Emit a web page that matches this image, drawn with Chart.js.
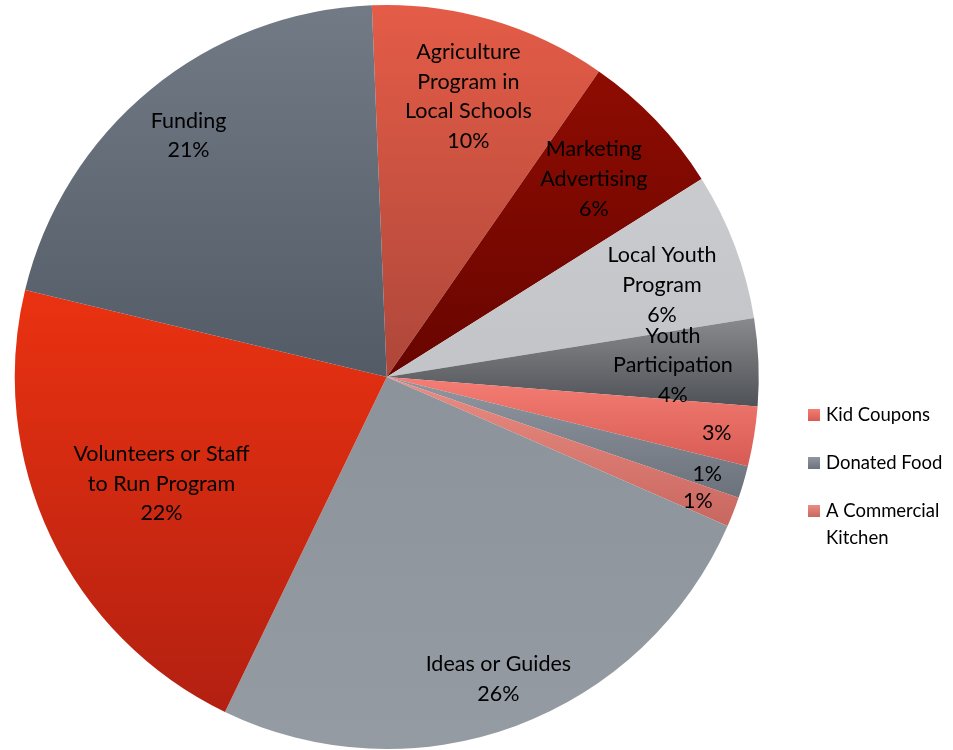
<!DOCTYPE html>
<html>
<head>
<meta charset="utf-8">
<script src="https://cdn.jsdelivr.net/npm/chart.js@4/dist/chart.umd.min.js"></script>
<style>
  html, body { margin: 0; padding: 0; background: #ffffff; }
  #wrap { width: 953px; height: 750px; }
</style>
</head>
<body>
<div id="wrap"><canvas id="pie" width="953" height="750"></canvas></div>
<script>
// Survey answers: what is needed to run the program (share of responses, %)
const categories = [
  'Agriculture Program in Local Schools',
  'Marketing Advertising',
  'Local Youth Program',
  'Youth Participation',
  'Kid Coupons',
  'Donated Food',
  'A Commercial Kitchen',
  'Ideas or Guides',
  'Volunteers or Staff to Run Program',
  'Funding'
];
const shares = [10.3, 6.4, 6.4, 3.8, 2.6, 1.4, 1.3, 25.6, 21.6, 20.6];

// How each in-slice label is broken into lines (empty = percentage only, name goes to the legend)
const labelLines = [
  ['Agriculture', 'Program in', 'Local Schools'],
  ['Marketing', 'Advertising'],
  ['Local Youth', 'Program'],
  ['Youth', 'Participation'],
  [],
  [],
  [],
  ['Ideas or Guides'],
  ['Volunteers or Staff', 'to Run Program'],
  ['Funding']
];

// Slice fills: vertical gradient from top colour to bottom colour
const topColors    = ['#E45C47', '#8E0C02', '#C9CBCF', '#898A8D', '#F57D73', '#9097A0', '#EB8D84', '#8C939B', '#EA3211', '#717A85'];
const bottomColors = ['#AE473A', '#680500', '#C2C4C8', '#4F5257', '#D65B54', '#6B727B', '#C8675F', '#949BA3', '#B32011', '#535B66'];

// Label placement: distance from the centre (fraction of radius) and a small angular nudge (degrees)
const labelRadius = [0.785, 0.77, 0.78, 0.77, 0.9, 0.9, 0.9, 0.865, 0.67, 0.84];
const labelAngleShift = [0, 0, 2.2, 0, 0.5, 0.4, 0.4, 0, 0, 0];

const ROTATION = -2.3;
const FONT = 'Lato, "Open Sans", "Liberation Sans", sans-serif';

function sliceGradient(context) {
  const chart = context.chart;
  const i = context.dataIndex;
  const area = chart.chartArea;
  if (!area) return topColors[i];
  const cx = (area.left + area.right) / 2;
  const cy = (area.top + area.bottom) / 2;
  const r = Math.min(area.right - area.left, area.bottom - area.top) / 2;
  const total = shares.reduce((a, b) => a + b, 0);
  let before = 0;
  for (let k = 0; k < i; k++) before += shares[k];
  const a0 = (ROTATION / 180) * Math.PI - Math.PI / 2 + (before / total) * 2 * Math.PI;
  const a1 = a0 + (shares[i] / total) * 2 * Math.PI;
  const ys = [cy, cy + Math.sin(a0) * r, cy + Math.sin(a1) * r];
  // include the top / bottom extremes when the arc passes over them
  for (const ext of [-Math.PI / 2, Math.PI / 2, 1.5 * Math.PI, 2.5 * Math.PI]) {
    if (ext > a0 && ext < a1) ys.push(cy + Math.sin(ext) * r);
  }
  const y0 = Math.min(...ys), y1 = Math.max(...ys);
  const g = chart.ctx.createLinearGradient(0, y0, 0, y1);
  g.addColorStop(0, topColors[i]);
  g.addColorStop(1, bottomColors[i]);
  return g;
}

const sliceLabels = {
  id: 'sliceLabels',
  afterDatasetsDraw(chart) {
    const ctx = chart.ctx;
    const meta = chart.getDatasetMeta(0);
    const total = shares.reduce((a, b) => a + b, 0);
    const lineH = 29.8;
    ctx.save();
    ctx.fillStyle = '#000000';
    ctx.font = '21.5px ' + FONT;
    ctx.textAlign = 'center';
    ctx.textBaseline = 'middle';
    meta.data.forEach((arc, i) => {
      const p = arc.getProps(['x', 'y', 'startAngle', 'endAngle', 'outerRadius'], true);
      const mid = (p.startAngle + p.endAngle) / 2 + labelAngleShift[i] * Math.PI / 180;
      const rr = p.outerRadius * labelRadius[i];
      const x = p.x + Math.cos(mid) * rr;
      const y = p.y + Math.sin(mid) * rr;
      const lines = labelLines[i].concat([Math.round(shares[i] / total * 100) + '%']);
      const startY = y - (lines.length - 1) * lineH / 2;
      lines.forEach((t, j) => ctx.fillText(t, x, startY + j * lineH));
    });
    ctx.restore();
  }
};

// Legend for the slices whose names do not fit inside them
const sideLegend = {
  id: 'sideLegend',
  afterDraw(chart) {
    const ctx = chart.ctx;
    const items = categories.map((c, i) => i).filter(i => labelLines[i].length === 0);
    const x = chart.chartArea.right + 49;
    const maxW = 125;
    let y = 415;
    ctx.save();
    ctx.font = '18.5px ' + FONT;
    ctx.textBaseline = 'middle';
    ctx.textAlign = 'left';
    items.forEach(i => {
      const g = ctx.createLinearGradient(0, y - 6, 0, y + 6);
      g.addColorStop(0, topColors[i]);
      g.addColorStop(1, bottomColors[i]);
      ctx.fillStyle = g;
      ctx.fillRect(x, y - 6, 12, 12);
      // word-wrap the legend text
      const words = categories[i].split(' ');
      const lines = [];
      let cur = '';
      words.forEach(w => {
        const test = cur ? cur + ' ' + w : w;
        if (ctx.measureText(test).width > maxW && cur) { lines.push(cur); cur = w; }
        else cur = test;
      });
      lines.push(cur);
      ctx.fillStyle = '#000000';
      lines.forEach((t, j) => ctx.fillText(t, x + 18, y + j * 27));
      y += 48;
    });
    ctx.restore();
  }
};

new Chart(document.getElementById('pie'), {
  type: 'pie',
  data: {
    labels: categories,
    datasets: [{
      data: shares,
      backgroundColor: sliceGradient,
      borderWidth: 0,
      hoverOffset: 0
    }]
  },
  options: {
    responsive: false,
    animation: false,
    rotation: ROTATION,
    layout: { padding: { left: 14.5, top: 5, bottom: 1, right: 194 } },
    plugins: {
      legend: { display: false },
      tooltip: { enabled: false }
    }
  },
  plugins: [sliceLabels, sideLegend]
});
</script>
</body>
</html>
